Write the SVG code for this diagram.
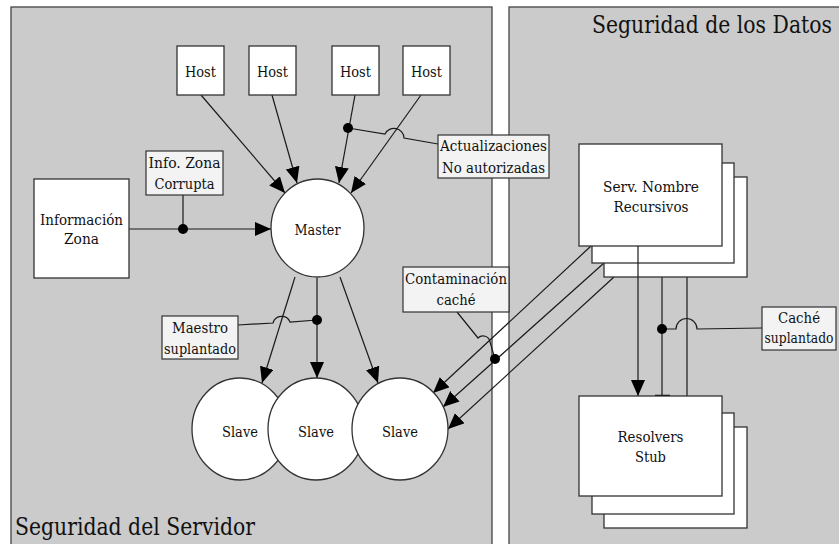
<svg xmlns="http://www.w3.org/2000/svg" width="839" height="544" viewBox="0 0 839 544">
<style>
  .panel { fill: #cbcbcb; stroke: #444; stroke-width: 1.3; }
  .node { fill: #fff; stroke: #333; stroke-width: 1.3; }
  .lbl { fill: #f3f3f3; stroke: #333; stroke-width: 1.2; }
  text { font-family: 'DejaVu Serif', serif; fill: #111; }
  .t { font-size: 15.5px; text-anchor: middle; }
  .title { font-size: 23.5px; }
  .c { fill: none; stroke: #1a1a1a; stroke-width: 1.2; }
  .arr { marker-end: url(#ah); }
  .dot { fill: #000; }
</style>
<defs>
  <marker id="ah" markerUnits="userSpaceOnUse" markerWidth="17" markerHeight="15" refX="16" refY="7" orient="auto">
    <path d="M0,0 L16,7 L0,14 z" fill="#000"/>
  </marker>
</defs>
<rect width="839" height="544" fill="#fff"/>
<g id="panel-servidor">
  <rect class="panel" x="11" y="7" width="481" height="560"/>
  <text class="title" x="15" y="535" textLength="240" lengthAdjust="spacingAndGlyphs">Seguridad del Servidor</text>
</g>
<g id="panel-datos">
  <rect class="panel" x="509" y="7" width="340" height="560"/>
  <text class="title" x="832" y="33" text-anchor="end" textLength="240" lengthAdjust="spacingAndGlyphs">Seguridad de los Datos</text>
</g>

<g id="connectors">
  <line class="c arr" x1="201" y1="95" x2="285" y2="193"/>
  <line class="c arr" x1="272" y1="95" x2="297" y2="183"/>
  <line class="c arr" x1="355" y1="95" x2="339" y2="183"/>
  <line class="c arr" x1="421" y1="95" x2="351" y2="193"/>
  <line class="c arr" x1="129" y1="229" x2="271" y2="229"/>
  <line class="c arr" x1="295" y1="277" x2="262" y2="383"/>
  <line class="c arr" x1="317" y1="278" x2="317" y2="378"/>
  <line class="c arr" x1="340" y1="277" x2="378" y2="383"/>
  <line class="c arr" x1="591" y1="246" x2="433" y2="393"/>
  <line class="c arr" x1="604" y1="263" x2="443" y2="407"/>
  <line class="c arr" x1="614" y1="277" x2="448" y2="429"/>
  <line class="c arr" x1="638" y1="246" x2="638" y2="396"/>
  <line class="c" x1="662" y1="277" x2="662" y2="396"/>
  <line x1="655" y1="396" x2="670" y2="396" stroke="#000" stroke-width="2.5"/>
  <line class="c" x1="687" y1="277" x2="687" y2="396"/>
  <line class="c" x1="183" y1="195" x2="183" y2="229"/>
  <path class="c" d="M348,128 L385,134 A 10 10 0 0 1 404,138 L438,144"/>
  <path class="c" d="M317,320 L290,322 A 9 9 0 0 0 273,323 L238,325"/>
  <path class="c" d="M457,312 L478,338 A 7 7 0 0 1 490,342 L495,359"/>
  <path class="c" d="M662,329 L676,329 A 10.5 10.5 0 0 1 697,329 L762,328"/>
  <circle class="dot" cx="183" cy="229" r="5"/>
  <circle class="dot" cx="348" cy="128" r="5"/>
  <circle class="dot" cx="317" cy="320" r="5"/>
  <circle class="dot" cx="495" cy="359" r="5"/>
  <circle class="dot" cx="662" cy="329" r="5"/>
</g>

<g id="host1"><rect class="node" x="177" y="46" width="47" height="49"/><text class="t" x="200.5" y="77" textLength="31" lengthAdjust="spacingAndGlyphs">Host</text></g>
<g id="host2"><rect class="node" x="249" y="46" width="47" height="49"/><text class="t" x="272.5" y="77" textLength="31" lengthAdjust="spacingAndGlyphs">Host</text></g>
<g id="host3"><rect class="node" x="332" y="46" width="47" height="49"/><text class="t" x="355.5" y="77" textLength="31" lengthAdjust="spacingAndGlyphs">Host</text></g>
<g id="host4"><rect class="node" x="403" y="46" width="47" height="49"/><text class="t" x="426.5" y="77" textLength="31" lengthAdjust="spacingAndGlyphs">Host</text></g>

<g id="info-zona">
  <rect class="node" x="34" y="179" width="95" height="99"/>
  <text class="t" x="81.5" y="225" textLength="83" lengthAdjust="spacingAndGlyphs">Información</text>
  <text class="t" x="81.5" y="244" textLength="35" lengthAdjust="spacingAndGlyphs">Zona</text>
</g>
<g id="lbl-info-corrupta">
  <rect class="lbl" x="146" y="151" width="77" height="44"/>
  <text class="t" x="184.5" y="168" textLength="72" lengthAdjust="spacingAndGlyphs">Info. Zona</text>
  <text class="t" x="184.5" y="189" textLength="60" lengthAdjust="spacingAndGlyphs">Corrupta</text>
</g>
<g id="lbl-actualizaciones">
  <rect class="lbl" x="438" y="135" width="111" height="43"/>
  <text class="t" x="493.5" y="151" textLength="107" lengthAdjust="spacingAndGlyphs">Actualizaciones</text>
  <text class="t" x="493.5" y="173" textLength="103" lengthAdjust="spacingAndGlyphs">No autorizadas</text>
</g>
<g id="master">
  <ellipse class="node" cx="317.5" cy="228" rx="46.5" ry="49"/>
  <text class="t" x="317.5" y="235" textLength="46" lengthAdjust="spacingAndGlyphs">Master</text>
</g>
<g id="lbl-maestro">
  <rect class="lbl" x="162" y="316" width="76" height="43"/>
  <text class="t" x="200" y="333" textLength="56" lengthAdjust="spacingAndGlyphs">Maestro</text>
  <text class="t" x="200" y="354" textLength="72" lengthAdjust="spacingAndGlyphs">suplantado</text>
</g>
<g id="slave1">
  <ellipse class="node" cx="240" cy="429" rx="48" ry="51"/>
  <text class="t" x="240" y="437" textLength="36" lengthAdjust="spacingAndGlyphs">Slave</text>
</g>
<g id="slave2">
  <ellipse class="node" cx="316" cy="429" rx="48" ry="51"/>
  <text class="t" x="316" y="437" textLength="36" lengthAdjust="spacingAndGlyphs">Slave</text>
</g>
<g id="slave3">
  <ellipse class="node" cx="400" cy="429" rx="48" ry="51"/>
  <text class="t" x="400" y="437" textLength="36" lengthAdjust="spacingAndGlyphs">Slave</text>
</g>
<g id="lbl-contaminacion">
  <rect class="lbl" x="403" y="267" width="106" height="45"/>
  <text class="t" x="456" y="284" textLength="102" lengthAdjust="spacingAndGlyphs">Contaminación</text>
  <text class="t" x="456" y="305" textLength="39" lengthAdjust="spacingAndGlyphs">caché</text>
</g>
<g id="serv-nombre">
  <rect class="node" x="604" y="177" width="143" height="100"/>
  <rect class="node" x="592" y="163" width="142" height="100"/>
  <rect class="node" x="579" y="144" width="143" height="102"/>
  <text class="t" x="651" y="192" textLength="96" lengthAdjust="spacingAndGlyphs">Serv. Nombre</text>
  <text class="t" x="651" y="212" textLength="75" lengthAdjust="spacingAndGlyphs">Recursivos</text>
</g>
<g id="resolvers">
  <rect class="node" x="604" y="427" width="143" height="101"/>
  <rect class="node" x="592" y="413" width="142" height="101"/>
  <rect class="node" x="579" y="396" width="143" height="100"/>
  <text class="t" x="650.5" y="442" textLength="66" lengthAdjust="spacingAndGlyphs">Resolvers</text>
  <text class="t" x="650.5" y="462" textLength="31" lengthAdjust="spacingAndGlyphs">Stub</text>
</g>
<g id="lbl-cache">
  <rect class="lbl" x="762" y="307" width="74" height="43"/>
  <text class="t" x="799" y="323" textLength="42" lengthAdjust="spacingAndGlyphs">Caché</text>
  <text class="t" x="799" y="343" textLength="69" lengthAdjust="spacingAndGlyphs">suplantado</text>
</g>
<g id="connectors-overlay">
  <line class="c" x1="638" y1="246" x2="638" y2="277"/>
</g>
</svg>
